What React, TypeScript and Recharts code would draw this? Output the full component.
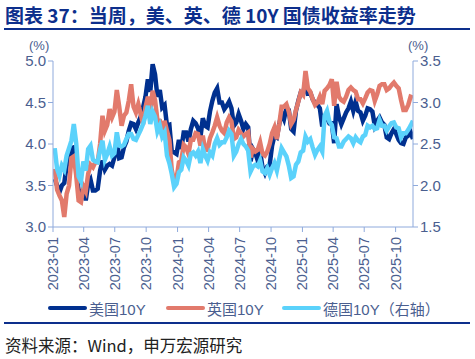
import { LineChart, Line, XAxis, YAxis } from 'recharts';

// weekly (Friday) observations, 2023-01-06 .. 2025-11-21
const START = Date.UTC(2023, 0, 6);
const WEEK = 7 * 24 * 3600 * 1000;

const US_10Y = [
  // 2023
  3.58, 3.50, 3.42, 3.50, 3.53, 3.74, 3.82, 3.95,
  3.96, 3.70, 3.43, 3.36, 3.47, 3.32, 3.52, 3.57, 3.44,
  3.44, 3.46, 3.68, 3.80, 3.69, 3.74, 3.76, 3.74, 3.84,
  4.05, 3.83, 3.84, 3.96, 4.03, 4.16, 4.25, 4.24,
  4.18, 4.26, 4.33, 4.44, 4.57, 4.78, 4.63, 4.96, 4.84,
  4.57, 4.65, 4.44, 4.47, 4.22, 4.23, 3.91, 3.90, 3.88,
  // 2024
  4.05, 3.94, 4.14, 4.14, 4.03, 4.18, 4.28, 4.25,
  4.19, 4.08, 4.31, 4.22, 4.20, 4.39, 4.52, 4.62, 4.67,
  4.50, 4.50, 4.42, 4.46, 4.51, 4.43, 4.22, 4.26, 4.36,
  4.28, 4.18, 4.24, 4.20, 3.79, 3.94, 3.89, 3.80, 3.91,
  3.72, 3.65, 3.73, 3.75, 3.98, 4.10, 4.08, 4.24,
  4.37, 4.30, 4.43, 4.41, 4.18, 4.15, 4.40, 4.52, 4.62,
  // 2025
  4.60, 4.77, 4.61, 4.62, 4.54, 4.49, 4.47, 4.43, 4.21,
  4.30, 4.31, 4.25, 4.25, 4.01, 4.48, 4.33, 4.24,
  4.31, 4.38, 4.43, 4.51, 4.40, 4.51, 4.40, 4.38, 4.28,
  4.34, 4.43, 4.42, 4.39, 4.22, 4.28, 4.32, 4.26, 4.23,
  4.08, 4.06, 4.13, 4.18, 4.12, 4.05, 4.01, 4.00, 4.08,
  4.10, 4.14, 4.06,
];

const UK_10Y = [
  // 2023
  3.70, 3.45, 3.38, 3.32, 3.12, 3.40, 3.50, 3.83,
  3.85, 3.62, 3.32, 3.30, 3.49, 3.43, 3.64, 3.75, 3.72,
  3.78, 3.78, 4.00, 4.34, 4.16, 4.23, 4.42, 4.32, 4.39,
  4.65, 4.45, 4.22, 4.34, 4.38, 4.52, 4.72, 4.45,
  4.38, 4.48, 4.36, 4.24, 4.44, 4.57, 4.39, 4.64, 4.53,
  4.29, 4.28, 4.09, 4.28, 4.16, 4.05, 3.69, 3.55, 3.58,
  // 2024
  3.78, 3.80, 3.99, 3.96, 3.88, 4.05, 4.05, 4.13,
  4.12, 3.98, 4.10, 3.93, 3.93, 4.07, 4.14, 4.22, 4.32,
  4.22, 4.16, 4.13, 4.26, 4.32, 4.27, 4.06, 4.08, 4.17,
  4.13, 4.09, 4.12, 4.14, 3.84, 3.94, 3.91, 3.93, 4.02,
  3.88, 3.86, 3.91, 4.00, 4.13, 4.20, 4.06, 4.24,
  4.45, 4.45, 4.48, 4.39, 4.24, 4.29, 4.41, 4.51, 4.62,
  // 2025
  4.59, 4.88, 4.67, 4.63, 4.54, 4.47, 4.50, 4.57, 4.48,
  4.64, 4.67, 4.71, 4.78, 4.46, 4.75, 4.57, 4.53,
  4.51, 4.57, 4.65, 4.68, 4.65, 4.63, 4.54, 4.54, 4.49,
  4.55, 4.62, 4.65, 4.64, 4.52, 4.60, 4.70, 4.72, 4.72,
  4.65, 4.67, 4.71, 4.74, 4.70, 4.67, 4.53, 4.41, 4.41,
  4.47, 4.57, 4.56,
];

const DE_10Y = [
  // 2023
  2.45, 2.20, 2.12, 2.24, 2.19, 2.36, 2.45, 2.54,
  2.74, 2.51, 2.11, 2.05, 2.29, 2.18, 2.44, 2.48, 2.31,
  2.29, 2.28, 2.43, 2.54, 2.31, 2.38, 2.47, 2.36, 2.39,
  2.64, 2.48, 2.47, 2.49, 2.56, 2.62, 2.62, 2.56,
  2.55, 2.61, 2.67, 2.74, 2.84, 2.96, 2.74, 2.89, 2.83,
  2.65, 2.72, 2.59, 2.64, 2.36, 2.27, 2.14, 1.98, 2.02,
  // 2024
  2.16, 2.19, 2.34, 2.30, 2.24, 2.38, 2.40, 2.36,
  2.41, 2.27, 2.44, 2.36, 2.30, 2.40, 2.36, 2.50, 2.57,
  2.49, 2.52, 2.52, 2.58, 2.66, 2.62, 2.36, 2.41, 2.50,
  2.56, 2.50, 2.47, 2.42, 2.17, 2.23, 2.25, 2.23, 2.30,
  2.17, 2.15, 2.21, 2.13, 2.21, 2.27, 2.18, 2.32,
  2.45, 2.40, 2.35, 2.24, 2.09, 2.11, 2.25, 2.29, 2.40,
  // 2025
  2.42, 2.59, 2.53, 2.56, 2.46, 2.37, 2.43, 2.47, 2.41,
  2.84, 2.90, 2.77, 2.73, 2.58, 2.57, 2.47, 2.47,
  2.53, 2.56, 2.59, 2.57, 2.51, 2.58, 2.54, 2.52, 2.59,
  2.61, 2.72, 2.70, 2.72, 2.68, 2.69, 2.79, 2.72, 2.72,
  2.66, 2.71, 2.75, 2.76, 2.70, 2.69, 2.58, 2.63, 2.63,
  2.67, 2.72, 2.78,
];

const X_TICKS = [
  '2023-01', '2023-04', '2023-07', '2023-10',
  '2024-01', '2024-04', '2024-07', '2024-10',
  '2025-01', '2025-04', '2025-07', '2025-10',
];
const LEFT_TICKS = [3.0, 3.5, 4.0, 4.5, 5.0];
const RIGHT_TICKS = [1.5, 2.0, 2.5, 3.0, 3.5];

const toTime = (ym: string) => Date.UTC(+ym.slice(0, 4), +ym.slice(5, 7) - 1, 1);
const X_MIN = toTime('2023-01');
const X_MAX = Date.UTC(2025, 10, 21);

const data = US_10Y.map((us, i) => ({
  t: START + i * WEEK,
  us,
  uk: UK_10Y[i],
  de: DE_10Y[i],
}));

const C_US = '#00308f';
const C_UK = '#e27a6c';
const C_DE = '#5bd2fb';
const C_AXIS = '#8faadc';
const C_TEXT = '#4a5e8f';
const C_TITLE = '#0d2f8c';
const FONT = '"Liberation Sans", Arial, "Noto Sans CJK SC", sans-serif';

function DateTick(props: any) {
  const { x, y, payload } = props;
  const d = new Date(payload.value);
  const label = `${d.getUTCFullYear()}-${String(d.getUTCMonth() + 1).padStart(2, '0')}`;
  return (
    <text
      x={x}
      y={y + 3}
      transform={`rotate(-90, ${x}, ${y + 3})`}
      textAnchor="end"
      dominantBaseline="central"
      fill={C_TEXT}
      fontSize={14.5}
      fontFamily={FONT}
    >
      {label}
    </text>
  );
}

const LEGEND = [
  { label: '美国10Y', color: C_US, x: 48 },
  { label: '英国10Y', color: C_UK, x: 166 },
  { label: '德国10Y（右轴）', color: C_DE, x: 282 },
];

export default function App() {
  return (
    <div style={{ position: 'fixed', left: 0, top: 0, width: 475, height: 359, background: '#fff', fontFamily: FONT }}>
      <div style={{ position: 'absolute', left: 5, top: 2, fontSize: 19, fontWeight: 'bold', color: C_TITLE, fontFamily: '"Noto Sans CJK SC", sans-serif', whiteSpace: 'nowrap', lineHeight: '25px' }}>
        图表 37：当周，美、英、德 10Y 国债收益率走势
      </div>
      <div style={{ position: 'absolute', left: 4, top: 28, width: 466, height: 2, background: C_TITLE }} />

      <div style={{ position: 'absolute', left: 29, top: 38, fontSize: 13, color: C_TEXT }}>(%)</div>
      <div style={{ position: 'absolute', left: 408, top: 38, fontSize: 13, color: C_TEXT }}>(%)</div>

      <div style={{ position: 'absolute', left: 0, top: 0 }}>
        <LineChart width={475} height={300} data={data} margin={{ top: 61, right: 22, bottom: 8, left: 13 }}>
          <XAxis
            type="number"
            dataKey="t"
            domain={[X_MIN, X_MAX]}
            ticks={X_TICKS.map(toTime)}
            tick={<DateTick />}
            height={65}
            stroke={C_AXIS}
            tickSize={5}
            tickLine={{ stroke: C_AXIS }}
            interval={0}
            allowDataOverflow
          />
          <YAxis
            yAxisId="left"
            domain={[3, 5]}
            ticks={LEFT_TICKS}
            tickFormatter={(v: number) => v.toFixed(1)}
            width={40}
            stroke={C_AXIS}
            tickSize={5}
            tick={{ fill: C_TEXT, fontSize: 15, fontFamily: FONT }}
            allowDataOverflow
          />
          <YAxis
            yAxisId="right"
            orientation="right"
            domain={[1.5, 3.5]}
            ticks={RIGHT_TICKS}
            tickFormatter={(v: number) => v.toFixed(1)}
            width={40}
            stroke={C_AXIS}
            tickSize={5}
            tick={{ fill: C_TEXT, fontSize: 15, fontFamily: FONT }}
            allowDataOverflow
          />
          <Line yAxisId="left" dataKey="us" stroke={C_US} strokeWidth={4.5} dot={false} isAnimationActive={false} />
          <Line yAxisId="left" dataKey="uk" stroke={C_UK} strokeWidth={4.5} dot={false} isAnimationActive={false} />
          <Line yAxisId="right" dataKey="de" stroke={C_DE} strokeWidth={4.5} dot={false} isAnimationActive={false} />
        </LineChart>
      </div>

      {LEGEND.map(item => (
        <div key={item.label} style={{ position: 'absolute', left: item.x, top: 298, height: 20, display: 'flex', alignItems: 'center', whiteSpace: 'nowrap' }}>
          <div style={{ width: 39, height: 4, background: item.color, borderRadius: 2 }} />
          <span style={{ marginLeft: 2, fontSize: 15, color: C_TEXT, fontFamily: '"Liberation Sans", "Noto Sans CJK SC", sans-serif' }}>{item.label}</span>
        </div>
      ))}

      <div style={{ position: 'absolute', left: 4, top: 322, width: 466, height: 2, background: C_TITLE }} />
      <div style={{ position: 'absolute', left: 5, top: 334, fontSize: 16.5, color: '#222', fontFamily: '"Noto Sans CJK SC", sans-serif', whiteSpace: 'nowrap', lineHeight: '22px' }}>
        资料来源：Wind，申万宏源研究
      </div>
    </div>
  );
}
